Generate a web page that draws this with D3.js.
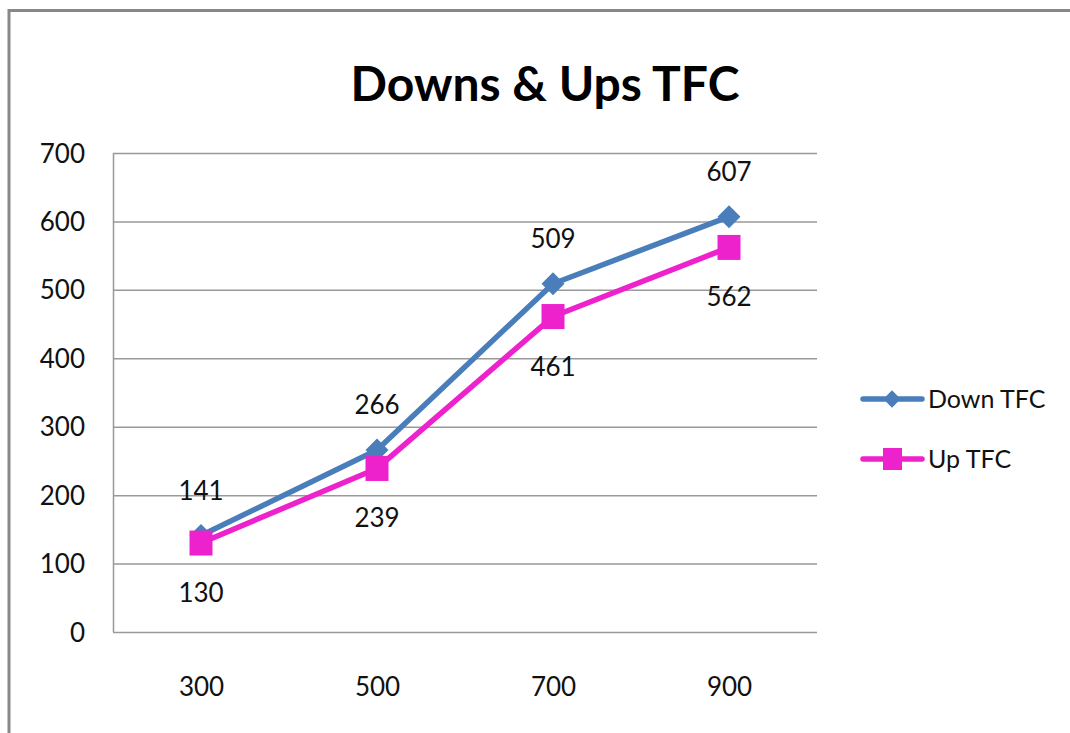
<!DOCTYPE html>
<html><head><meta charset="utf-8">
<script src="https://cdn.jsdelivr.net/npm/d3@7"></script>
<style>body{margin:0;background:#fff}svg{display:block}</style>
</head><body>
<svg id="c" width="1070" height="733"></svg>
<script>
const categories = ["300","500","700","900"];
const downTFC = [141,266,509,607];
const upTFC = [130,239,461,562];
const yTicks = [0,100,200,300,400,500,600,700];
const seriesNames = ["Down TFC","Up TFC"];

const svg = d3.select("#c");
const font = "Lato, 'Open Sans', sans-serif";
// outer frame
svg.append("rect").attr("x",9).attr("y",10.5).attr("width",1080).attr("height",740)
  .attr("fill","#fff").attr("stroke","#888").attr("stroke-width",3);

const L=113,R=817,T=153,B=632;
const x = d3.scalePoint().domain(categories).range([L,R]).padding(0.5);
const y = d3.scaleLinear().domain([0,700]).range([B,T]);

// gridlines
svg.append("g").selectAll("line").data(yTicks).join("line")
  .attr("x1",L).attr("x2",R).attr("y1",d=>y(d)+0.5).attr("y2",d=>y(d)+0.5)
  .attr("stroke","#999").attr("stroke-width",1.5);
svg.append("line").attr("x1",L+0.5).attr("x2",L+0.5).attr("y1",T).attr("y2",B)
  .attr("stroke","#999").attr("stroke-width",1.5);

// y axis labels
const ya = svg.append("g").attr("transform",`translate(${L-28},0)`)
  .call(d3.axisLeft(y).tickValues(yTicks).tickSize(0).tickPadding(0));
ya.select(".domain").remove();
ya.selectAll("text").attr("font-family",font).attr("font-size",26).attr("fill","#111").attr("dy","0.35em");
// x axis labels
const xa = svg.append("g").attr("transform",`translate(0,${B+55})`)
  .call(d3.axisBottom(x).tickSize(0).tickPadding(0));
xa.select(".domain").remove();
xa.selectAll("text").attr("font-family",font).attr("font-size",26).attr("fill","#111").attr("dy","0.35em");

// title
svg.append("text").attr("x",545).attr("y",101).attr("text-anchor","middle")
  .attr("font-family",font).attr("font-weight","bold").attr("font-size",48).attr("fill","#000")
  .text("Downs & Ups TFC");

const line = d3.line().x((d,i)=>x(categories[i])).y(d=>y(d));
const cDown="#4A7EBB", cUp="#EE22CC";
svg.append("path").datum(downTFC).attr("d",line).attr("fill","none").attr("stroke",cDown).attr("stroke-width",5.5).attr("stroke-linejoin","round");
svg.append("path").datum(upTFC).attr("d",line).attr("fill","none").attr("stroke",cUp).attr("stroke-width",5.5).attr("stroke-linejoin","round");

svg.append("g").selectAll("path").data(downTFC).join("path")
  .attr("d",d3.symbol().type(d3.symbolSquare).size(265)())
  .attr("transform",(d,i)=>`translate(${x(categories[i])},${y(d)}) rotate(45)`)
  .attr("fill",cDown);
svg.append("g").selectAll("rect").data(upTFC).join("rect")
  .attr("x",(d,i)=>x(categories[i])-11.5).attr("y",d=>y(d)-12.5).attr("width",23).attr("height",25)
  .attr("fill",cUp);

// data labels
const lblDownDy = [-45,-45,-45,-45];
const lblUpDy = [50,50,50,50];
svg.append("g").selectAll("text").data(downTFC).join("text")
  .attr("x",(d,i)=>x(categories[i])).attr("y",(d,i)=>y(d)+lblDownDy[i]+9)
  .attr("text-anchor","middle").attr("font-family",font).attr("font-size",26).attr("fill","#111").text(d=>d);
svg.append("g").selectAll("text").data(upTFC).join("text")
  .attr("x",(d,i)=>x(categories[i])).attr("y",(d,i)=>y(d)+lblUpDy[i]+9)
  .attr("text-anchor","middle").attr("font-family",font).attr("font-size",26).attr("fill","#111").text(d=>d);

// legend
const lg = svg.append("g");
const legY=[399,459], cols=[cDown,cUp];
seriesNames.forEach((n,i)=>{
  lg.append("line").attr("x1",863).attr("x2",922).attr("y1",legY[i]).attr("y2",legY[i]).attr("stroke",cols[i]).attr("stroke-width",5.5).attr("stroke-linecap","round");
  if(i===0) lg.append("path").attr("d",d3.symbol().type(d3.symbolSquare).size(150)()).attr("transform",`translate(892,${legY[i]}) rotate(45)`).attr("fill",cols[i]);
  else lg.append("rect").attr("x",883).attr("y",legY[i]-11).attr("width",19).attr("height",22).attr("fill",cols[i]);
  lg.append("text").attr("x",928).attr("y",legY[i]).attr("dy","0.35em").attr("font-family",font).attr("font-size",25).attr("fill","#111").text(n);
});
</script>
</body></html>
